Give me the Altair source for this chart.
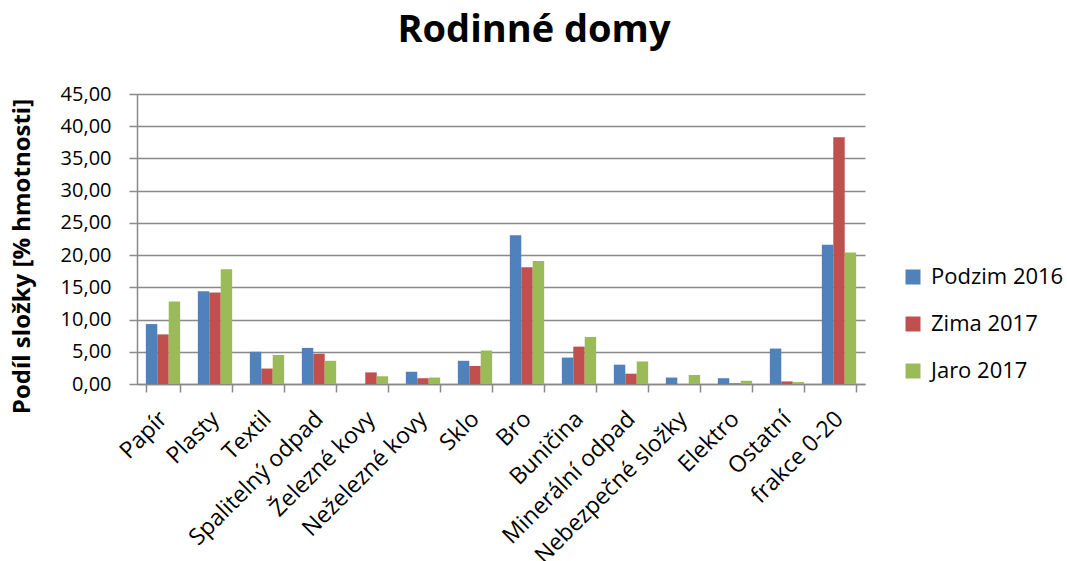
import altair as alt
import pandas as pd

# Waste composition of household (single-family house) samples, % by weight
categories = [
    "Papír", "Plasty", "Textil", "Spalitelný odpad", "Železné kovy",
    "Neželezné kovy", "Sklo", "Bro", "Buničina", "Minerální odpad",
    "Nebezpečné složky", "Elektro", "Ostatní", "frakce 0-20",
]
series = ["Podzim 2016", "Zima 2017", "Jaro 2017"]
podzim_2016 = [9.3, 14.4, 5.0, 5.6, 0.0, 1.9, 3.6, 23.1, 4.1, 3.0, 1.0, 0.9, 5.5, 21.6]
zima_2017 = [7.7, 14.2, 2.4, 4.7, 1.8, 0.9, 2.8, 18.1, 5.8, 1.6, 0.0, 0.1, 0.4, 38.3]
jaro_2017 = [12.8, 17.8, 4.5, 3.6, 1.2, 1.0, 5.2, 19.1, 7.3, 3.5, 1.4, 0.5, 0.3, 20.4]
colors = ["#4F81BD", "#C0504D", "#9BBB59"]
y_ticks = [0, 5, 10, 15, 20, 25, 30, 35, 40, 45]

rows = []
for name, values in zip(series, [podzim_2016, zima_2017, jaro_2017]):
    for cat, val in zip(categories, values):
        rows.append({"kategorie": cat, "obdobi": name, "podil": val})
df = pd.DataFrame(rows)

GRID = "#898989"
LABEL_FONT = "Open Sans"

chart = (
    alt.Chart(df)
    .mark_bar()
    .encode(
        x=alt.X(
            "kategorie:N",
            sort=categories,
            scale=alt.Scale(paddingInner=0.34, paddingOuter=0.17),
            axis=alt.Axis(
                title=None,
                labelAngle=-45,
                labelAlign="right",
                labelBaseline="middle",
                labelFont=LABEL_FONT,
                labelFontSize=23,
                labelColor="#000000",
                labelPadding=23,
                labelLimit=0,
                tickBand="extent",
                tickSize=8,
                tickColor=GRID,
                tickWidth=1.5,
                domainColor=GRID,
                domainWidth=1.5,
                labelOverlap=False,
            ),
        ),
        xOffset=alt.XOffset("obdobi:N", sort=series),
        y=alt.Y(
            "podil:Q",
            scale=alt.Scale(domain=[0, 45], nice=False),
            axis=alt.Axis(
                values=y_ticks,
                labelExpr="replace(format(datum.value, '.2f'), '.', ',')",
                title="Podíl složky [% hmotnosti]",
                titleFont=LABEL_FONT,
                titleFontSize=24,
                titleFontWeight="bold",
                titleColor="#000000",
                titleX=-115,
                titleY=162,
                titleBaseline="middle",
                labelFont=LABEL_FONT,
                labelFontSize=20,
                labelColor="#000000",
                labelPadding=18,
                tickSize=8,
                tickColor=GRID,
                tickWidth=1.5,
                domainColor=GRID,
                domainWidth=1.5,
                gridColor=GRID,
                gridWidth=1.5,
            ),
        ),
        color=alt.Color(
            "obdobi:N",
            sort=series,
            scale=alt.Scale(domain=series, range=colors),
            legend=alt.Legend(
                title=None,
                orient="none",
                legendX=765,
                legendY=172,
                padding=0,
                symbolType="square",
                symbolSize=225,
                symbolStrokeWidth=0,
                labelFont=LABEL_FONT,
                labelFontSize=22,
                labelColor="#000000",
                labelOffset=7,
                rowPadding=25,
            ),
        ),
    )
    .properties(
        width=728,
        height=290,
        title=alt.TitleParams(
            "Rodinné domy",
            font=LABEL_FONT,
            fontSize=38,
            fontWeight="bold",
            color="#000000",
            anchor="middle",
            dx=33,
            offset=34,
        ),
        padding={"left": 137, "top": 94, "right": 202, "bottom": 177},
        autosize="none",
    )
    .configure_view(stroke=None)
)

chart.save("out.html", embed_options={"renderer": "svg", "actions": False})
